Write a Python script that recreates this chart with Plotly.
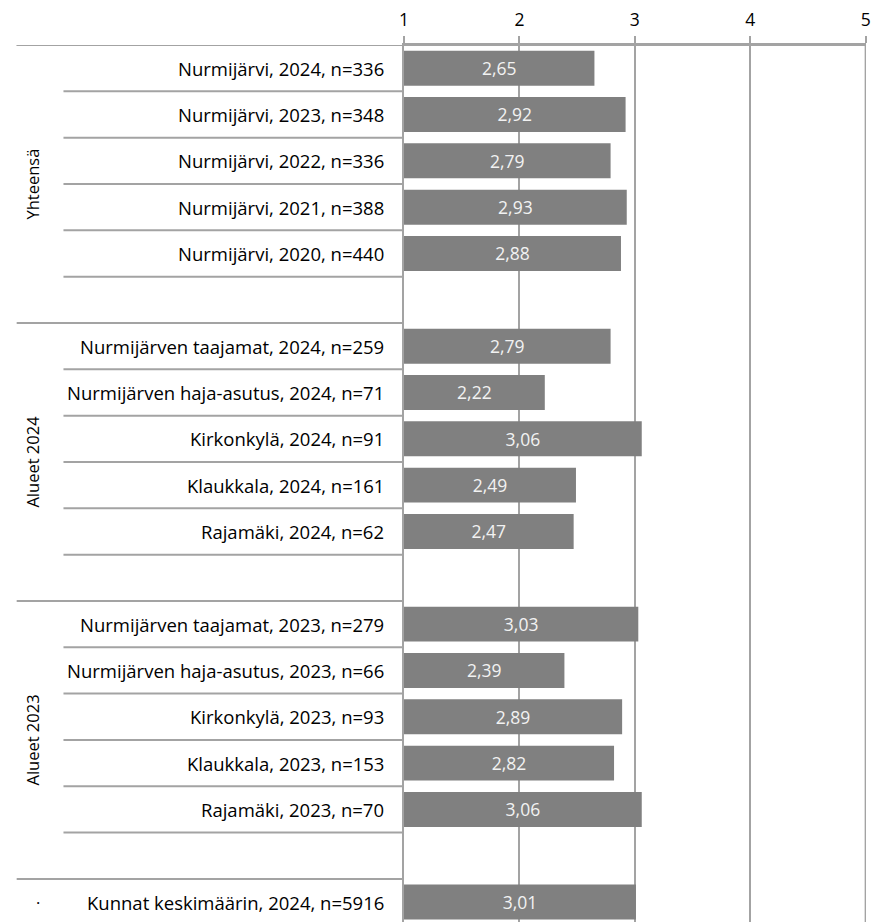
import plotly.graph_objects as go

# ---- data ----
categories = [
    "Nurmijärvi, 2024, n=336",
    "Nurmijärvi, 2023, n=348",
    "Nurmijärvi, 2022, n=336",
    "Nurmijärvi, 2021, n=388",
    "Nurmijärvi, 2020, n=440",
    "",
    "Nurmijärven taajamat, 2024, n=259",
    "Nurmijärven haja-asutus, 2024, n=71",
    "Kirkonkylä, 2024, n=91",
    "Klaukkala, 2024, n=161",
    "Rajamäki, 2024, n=62",
    "",
    "Nurmijärven taajamat, 2023, n=279",
    "Nurmijärven haja-asutus, 2023, n=66",
    "Kirkonkylä, 2023, n=93",
    "Klaukkala, 2023, n=153",
    "Rajamäki, 2023, n=70",
    "",
    "Kunnat keskimäärin, 2024, n=5916",
]
values = [2.65, 2.92, 2.79, 2.93, 2.88, None,
          2.79, 2.22, 3.06, 2.49, 2.47, None,
          3.03, 2.39, 2.89, 2.82, 3.06, None,
          3.01]
groups = ["Yhteensä", "Alueet 2024", "Alueet 2023", "·"]
group_rows = [(0, 5), (6, 11), (12, 17), (18, 18)]
x_ticks = [1, 2, 3, 4, 5]
AXIS_MIN = 1
AXIS_MAX = 5

# ---- layout constants ----
W, H = 871, 922
L, R, T, B = 404, 3, 45, 0
plot_w = W - L - R
FONT = "'Open Sans', Lato, sans-serif"
LINE = "#a3a3a3"
FS_LABEL = 18.5
FS_GROUP = 16.5
FS_BAR = 17.5
FS_TICK = 17.5

def px_to_paper_x(px):
    return (px - L) / plot_w

bx, by, btxt = [], [], []
for i, v in enumerate(values):
    if v is None:
        continue
    bx.append(v - AXIS_MIN)
    by.append(i)
    btxt.append(f"{v:.2f}".replace(".", ","))

fig = go.Figure()
fig.add_trace(go.Bar(
    x=bx, y=by, base=AXIS_MIN, orientation="h",
    marker=dict(color="#808080", line=dict(width=0)),
    width=0.755,
    text=btxt, textposition="inside", insidetextanchor="middle",
    textfont=dict(color="#f2f2f2", size=FS_BAR, family=FONT),
    cliponaxis=False, hoverinfo="skip",
))

shapes = []
annotations = []
group_bounds = {g[0] for g in group_rows}
for i in range(len(categories)):
    y = i - 0.5
    x0 = px_to_paper_x(15) if i in group_bounds else px_to_paper_x(62)
    shapes.append(dict(type="line", xref="paper", yref="y", x0=x0, x1=0,
                       y0=y, y1=y, line=dict(color=LINE, width=2), layer="below"))
shapes.append(dict(type="line", xref="paper", yref="y", x0=px_to_paper_x(15), x1=1,
                   y0=-0.5, y1=-0.5, line=dict(color=LINE, width=2), layer="below"))
# gridline at the axis maximum (plotly drops grid lines at the range ends)
shapes.append(dict(type="line", xref="x", yref="paper", x0=AXIS_MAX, x1=AXIS_MAX,
                   y0=0, y1=1, line=dict(color=LINE, width=2), layer="below"))

for i, c in enumerate(categories):
    if not c:
        continue
    annotations.append(dict(xref="paper", yref="y", x=px_to_paper_x(386), y=i,
                            text=c, showarrow=False, xanchor="right", yanchor="middle",
                            font=dict(size=FS_LABEL, color="#000000", family=FONT)))
for g, (a, b) in zip(groups, group_rows):
    if g == "·":
        annotations.append(dict(xref="paper", yref="y", x=px_to_paper_x(36), y=a,
                                text=g, showarrow=False, xanchor="center", yanchor="middle",
                                font=dict(size=FS_GROUP, color="#000000", family=FONT)))
    else:
        annotations.append(dict(xref="paper", yref="y", x=px_to_paper_x(31), y=(a + b) / 2,
                                text=g, showarrow=False, textangle=-90,
                                xanchor="center", yanchor="middle",
                                font=dict(size=FS_GROUP, color="#000000", family=FONT)))

rows_visible = (H - T - B) / 46.33

fig.update_layout(
    width=W, height=H,
    margin=dict(l=L, r=R, t=T, b=B, pad=0),
    paper_bgcolor="white", plot_bgcolor="white",
    showlegend=False,
    separators=", ",
    font=dict(family=FONT, size=FS_LABEL, color="#000000"),
    xaxis=dict(
        range=[AXIS_MIN, AXIS_MAX + 0.003], side="top", tickvals=x_ticks,
        ticktext=[str(t) for t in x_ticks],
        showgrid=True, gridcolor=LINE, gridwidth=2,
        ticks="outside", ticklen=7, tickwidth=2, tickcolor=LINE,
        showline=True, linecolor=LINE, linewidth=2,
        zeroline=False, fixedrange=True, ticklabelstandoff=3,
        ticklabeloverflow="allow",
        tickfont=dict(size=FS_TICK, color="#000000", family=FONT),
    ),
    yaxis=dict(
        range=[-0.5 + rows_visible, -0.5],
        showticklabels=False, showgrid=False, zeroline=False,
        showline=True, linecolor=LINE, linewidth=2, ticks="",
        fixedrange=True,
    ),
    shapes=shapes,
    annotations=annotations,
)

fig.write_html(
    "out.html",
    config={"displayModeBar": False},
    post_script="document.body.style.margin='0';document.body.style.overflow='hidden';",
)
